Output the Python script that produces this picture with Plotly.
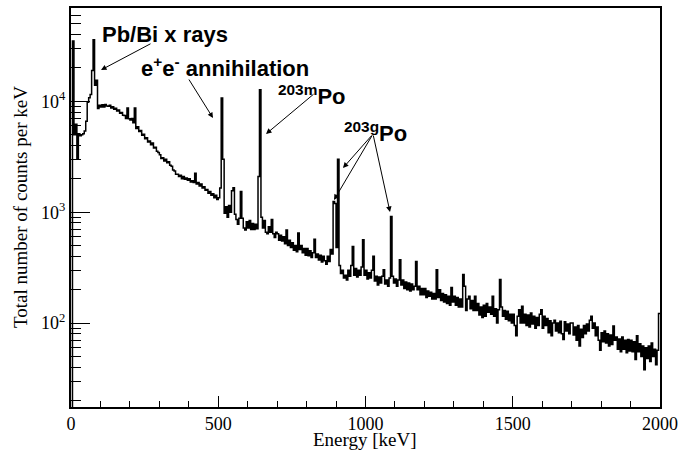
import plotly.graph_objects as go

# ---- data (counts per keV, 5 keV bins) ----
bin_width = 5
e_start = 0
counts_0_500 = [
    10, 35000, 5000, 6200, 3000, 5100, 4900, 5000, 5100, 5400,
    6600, 9800, 10800, 11500, 19000, 36000, 14000, 15500, 8600, 9200,
    8900, 9300, 8900, 9350, 9100, 9050, 9200, 8700, 8950, 8500,
    8650, 8200, 8350, 7800, 7950, 7500, 7450, 7000, 8700, 6950,
    6800, 7000, 6400, 8700, 5700, 5900, 5350, 5450, 4950, 5050,
    4600, 4700, 4300, 4400, 4050, 4200, 3800, 3850, 3550, 3450,
    3300, 3050, 3100, 2900, 3000, 2800, 2850, 2650, 2600, 2400,
    2350, 2200, 2200, 2100, 2150, 2000, 2100, 1980, 2030, 1940,
    2000, 1870, 1920, 1850, 2250, 1800, 1850, 1720, 1800, 1650,
    1700, 1580, 1600, 1480, 1540, 1420, 1470, 1350, 1420, 1300,
]
counts_500_1000 = [
    1350, 1650, 10700, 3000, 980, 1120, 900, 1150, 1000, 1560,
    1660, 960, 860, 780, 880, 1540, 880, 720, 690, 820,
    720, 840, 700, 790, 700, 780, 710, 2100, 12700, 900,
    720, 840, 660, 640, 740, 660, 860, 640, 590, 660,
    640, 560, 620, 550, 600, 520, 690, 500, 560, 480,
    530, 455, 500, 440, 650, 460, 500, 430, 470, 410,
    470, 405, 450, 390, 430, 570, 390, 420, 370, 410,
    355, 400, 365, 340, 400, 360, 460, 420, 1250, 1200,
    480, 3000, 330, 280, 300, 255, 270, 245, 300, 265,
    330, 490, 270, 310, 260, 300, 270, 320, 565, 270,
]
counts_1000_1500 = [
    300, 250, 285, 255, 300, 400, 240, 265, 220, 260,
    230, 265, 303, 225, 245, 215, 255, 916, 265, 230,
    250, 215, 245, 373, 220, 245, 205, 235, 200, 230,
    195, 225, 200, 215, 360, 200, 215, 180, 205, 180,
    205, 170, 195, 175, 190, 165, 185, 165, 303, 170,
    200, 160, 185, 155, 180, 150, 175, 145, 209, 155,
    175, 145, 170, 140, 165, 140, 274, 215, 130, 165,
    175, 135, 160, 130, 175, 130, 150, 118, 140, 112,
    145, 115, 150, 125, 140, 120, 175, 115, 135, 100,
    132, 247, 140, 115, 130, 108, 128, 105, 120, 100,
]
counts_1500_2000 = [
    120, 95, 77, 115, 132, 100, 142, 100, 120, 95,
    118, 92, 123, 98, 115, 90, 112, 95, 120, 132,
    90, 115, 95, 110, 82, 105, 77, 100, 106, 85,
    100, 82, 104, 80, 71, 103, 85, 98, 80, 100,
    100, 78, 92, 70, 95, 62, 88, 74, 95, 80,
    98, 85, 106, 115, 90, 100, 77, 92, 70, 57,
    82, 68, 85, 66, 80, 62, 78, 64, 94, 70,
    75, 58, 72, 55, 75, 58, 70, 54, 71, 56,
    70, 55, 68, 47, 77, 55, 65, 50, 62, 38,
    60, 48, 62, 45, 66, 50, 58, 42, 57, 122,
]
x_ticks = [0, 500, 1000, 1500, 2000]
y_ticks = [100, 1000, 10000]
y_tick_labels = ["10<sup>2</sup>", "10<sup>3</sup>", "10<sup>4</sup>"]

counts = counts_0_500 + counts_500_1000 + counts_1000_1500 + counts_1500_2000
edges = [e_start + i * bin_width for i in range(len(counts) + 1)]
yvals = counts + [counts[-1]]

# ---- figure ----
W, H = 679, 452
L, R, T, B = 71, 19, 8, 45
pw, ph = W - L - R, H - T - B


def px(xp):
    return (xp - L) / pw


def py(yp):
    return (H - B - yp) / ph


fig = go.Figure()
fig.add_trace(go.Scatter(
    x=edges, y=yvals, mode="lines", line_shape="hv",
    line=dict(color="black", width=1.5), showlegend=False, hoverinfo="skip",
))

y_minor = [m * 10 ** k for k in (1, 2, 3, 4) for m in range(2, 10)]

serif = "Liberation Serif, Times New Roman, serif"
sans = "Liberation Sans, Arial, sans-serif"

fig.update_layout(
    width=W, height=H, margin=dict(l=L, r=R, t=T, b=B, autoexpand=False),
    paper_bgcolor="white", plot_bgcolor="white",
    xaxis=dict(
        range=[0, 2000], showgrid=False, zeroline=False, automargin=False,
        showline=True, mirror=True, linecolor="black", linewidth=1.5,
        ticks="inside", ticklen=11, tickwidth=1, tickcolor="black",
        tickvals=x_ticks, ticktext=[str(v) for v in x_ticks],
        tickfont=dict(family=serif, size=18, color="black"),
        minor=dict(tickmode="array", tickvals=list(range(100, 2000, 100)),
                   ticks="inside", ticklen=6, tickcolor="black", tickwidth=1),
    ),
    yaxis=dict(
        type="log", range=[1.243, 4.842], showgrid=False, zeroline=False, automargin=False,
        showline=True, mirror=True, linecolor="black", linewidth=2,
        ticks="inside", ticklen=19, tickwidth=1, tickcolor="black",
        tickvals=y_ticks, ticktext=y_tick_labels,
        tickfont=dict(family=serif, size=18, color="black"),
        minor=dict(tickmode="array", tickvals=y_minor,
                   ticks="inside", ticklen=10, tickcolor="black", tickwidth=1),
    ),
)

# axis titles
fig.add_annotation(text="Energy [keV]", xref="paper", yref="paper",
                   x=px(365), y=py(439), xanchor="center", yanchor="middle",
                   showarrow=False, font=dict(family=serif, size=19, color="black"))
fig.add_annotation(text="Total number of counts per keV", xref="paper", yref="paper",
                   x=px(20), y=py(207), xanchor="center", yanchor="middle", textangle=-90,
                   showarrow=False, font=dict(family=serif, size=19, color="black"))

# labels
lab_font = dict(family=sans, size=22, color="black")
labels = [
    ("<b>Pb/Bi x rays</b>", 100, 34),
    ("<b>e<sup>+</sup>e<sup>-</sup> annihilation</b>", 139, 67),
    ("<b><sup>203m</sup>Po</b>", 276, 95),
    ("<b><sup>203g</sup>Po</b>", 342, 132),
]
for txt, xx, yy in labels:
    fig.add_annotation(text=txt, xref="paper", yref="paper", x=px(xx), y=py(yy),
                       xanchor="left", yanchor="middle", showarrow=False, font=lab_font)

# arrows: (tail_x, tail_y, tip_x, tip_y) in pixels
arrows = [
    (152, 43, 101, 70),
    (188, 78, 213, 118),
    (315, 93, 266, 134),
    (373, 134, 343, 168),
    (373, 134, 334, 200),
    (373, 134, 390, 212),
]
for tx, ty, hx, hy in arrows:
    fig.add_annotation(text="", xref="paper", yref="paper", x=px(hx), y=py(hy),
                       ax=tx - hx, ay=ty - hy, axref="pixel", ayref="pixel",
                       showarrow=True, arrowhead=2, arrowsize=1.1, arrowwidth=1,
                       arrowcolor="black")

fig.write_html("out.html")
